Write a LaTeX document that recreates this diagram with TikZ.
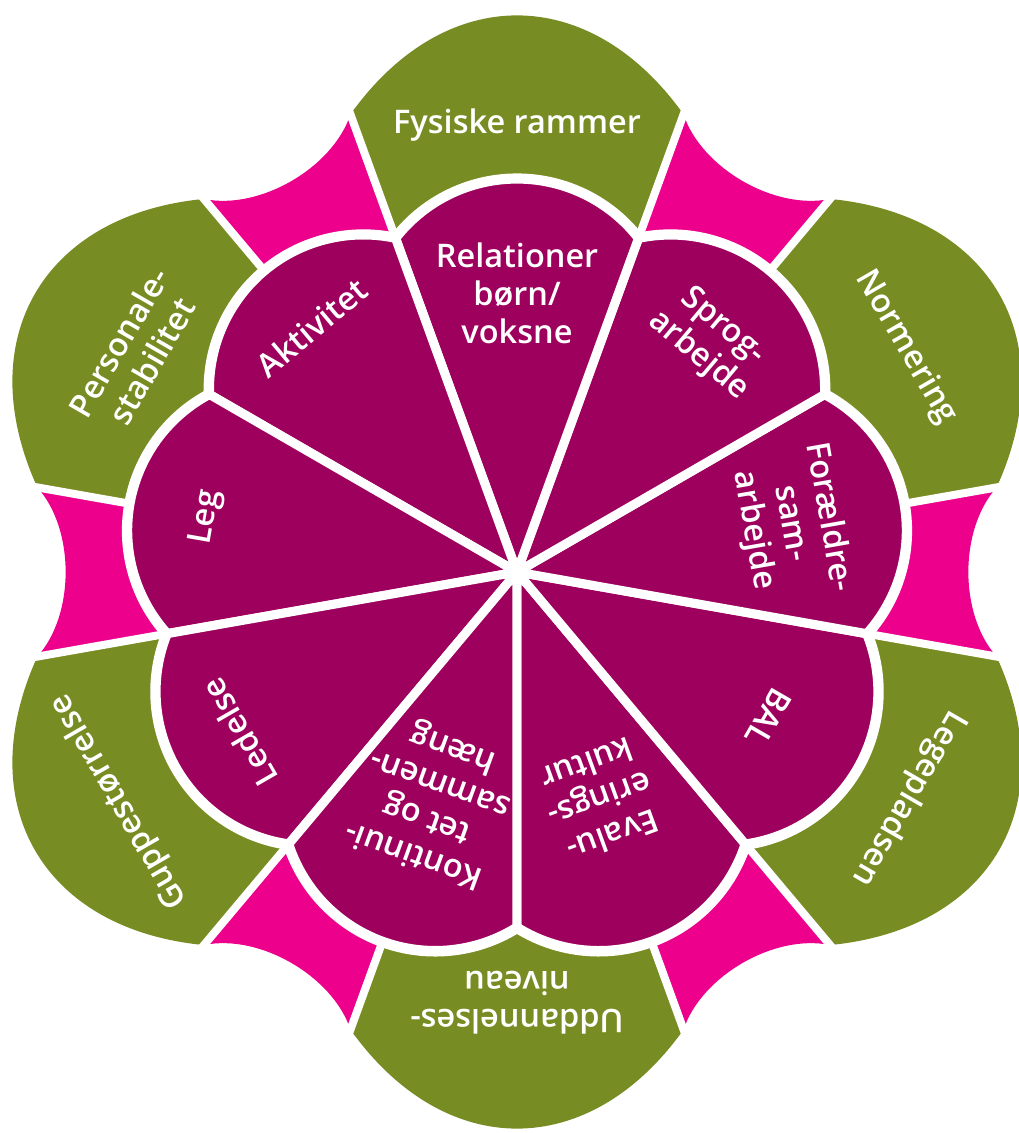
\documentclass[tikz,border=0pt]{standalone}
\usepackage{fontspec}
\newcommand\lblweight{}
\IfFontExistsTF{Open Sans Semibold}{\setmainfont{Open Sans Semibold}}{%
	\IfFontExistsTF{Open Sans SemiBold}{\setmainfont{Open Sans SemiBold}}{%
		\setmainfont{Open Sans}\renewcommand\lblweight{\bfseries}}}
\definecolor{zeqqvd}{rgb}{0.6196,0,0.3647}
\definecolor{xxyces}{rgb}{0.4667,0.549,0.1333}
\definecolor{ecqqyc}{rgb}{0.9255,0,0.549}
\begin{document}
\begin{tikzpicture}[line cap=round,line join=round,x=1pt,y=1pt,
		gapline/.style={white,line width=8pt,line cap=butt},
		halo/.style={draw=white,fill=white,line width=12pt,line join=miter},
		petal/.style={fill=zeqqvd,draw=white,line width=9pt},
		lbl/.style={text=white,align=center,inner sep=0pt,font=\lblweight\fontsize{32.5}{38}\selectfont}]
		\useasboundingbox (-517,-561) rectangle (502,572);
		\fill[xxyces] (0,0) -- (70:487) .. controls (83:594) and (97:594) .. (110:487) -- cycle;
		\fill[xxyces] (0,0) -- (130:487) .. controls (143:594) and (157:594) .. (170:487) -- cycle;
		\fill[xxyces] (0,0) -- (190:487) .. controls (203:594) and (217:594) .. (230:487) -- cycle;
		\fill[xxyces] (0,0) -- (250:487) .. controls (263:594) and (277:594) .. (290:487) -- cycle;
		\fill[xxyces] (0,0) -- (310:487) .. controls (323:594) and (337:594) .. (350:487) -- cycle;
		\fill[xxyces] (0,0) -- (10:487) .. controls (23:594) and (37:594) .. (50:487) -- cycle;
		\fill[ecqqyc] (0,0) -- (110:487) .. controls (114.5:444) and (125.5:444) .. (130:487) -- cycle;
		\fill[ecqqyc] (0,0) -- (170:487) .. controls (174.5:444) and (185.5:444) .. (190:487) -- cycle;
		\fill[ecqqyc] (0,0) -- (230:487) .. controls (234.5:444) and (245.5:444) .. (250:487) -- cycle;
		\fill[ecqqyc] (0,0) -- (290:487) .. controls (294.5:444) and (305.5:444) .. (310:487) -- cycle;
		\fill[ecqqyc] (0,0) -- (-10:487) .. controls (-5.5:444) and (5.5:444) .. (10:487) -- cycle;
		\fill[ecqqyc] (0,0) -- (50:487) .. controls (54.5:444) and (65.5:444) .. (70:487) -- cycle;
		\draw[gapline] (0,0) -- (70:620);
		\draw[gapline] (0,0) -- (110:620);
		\draw[gapline] (0,0) -- (130:620);
		\draw[gapline] (0,0) -- (170:620);
		\draw[gapline] (0,0) -- (190:620);
		\draw[gapline] (0,0) -- (230:620);
		\draw[gapline] (0,0) -- (250:620);
		\draw[gapline] (0,0) -- (290:620);
		\draw[gapline] (0,0) -- (310:620);
		\draw[gapline] (0,0) -- (350:620);
		\draw[gapline] (0,0) -- (10:620);
		\draw[gapline] (0,0) -- (50:620);
		\draw[halo] (-90:355) arc[start angle=-122.1,end angle=-17.9,radius=153.8]
			arc[start angle=-82.1,end angle=22.1,radius=153.8]
			arc[start angle=-42.1,end angle=62.1,radius=153.8]
			arc[start angle=-2.1,end angle=102.1,radius=153.8]
			arc[start angle=37.9,end angle=142.1,radius=153.8]
			arc[start angle=77.9,end angle=182.1,radius=153.8]
			arc[start angle=117.9,end angle=222.1,radius=153.8]
			arc[start angle=157.9,end angle=262.1,radius=153.8]
			arc[start angle=197.9,end angle=302.1,radius=153.8] -- cycle;
		\draw[petal] (0,0) -- (-90:355) arc[start angle=-122.1,end angle=-17.9,radius=153.8] -- cycle;
		\draw[petal] (0,0) -- (-50:355) arc[start angle=-82.1,end angle=22.1,radius=153.8] -- cycle;
		\draw[petal] (0,0) -- (-10:355) arc[start angle=-42.1,end angle=62.1,radius=153.8] -- cycle;
		\draw[petal] (0,0) -- (30:355) arc[start angle=-2.1,end angle=102.1,radius=153.8] -- cycle;
		\draw[petal] (0,0) -- (70:355) arc[start angle=37.9,end angle=142.1,radius=153.8] -- cycle;
		\draw[petal] (0,0) -- (110:355) arc[start angle=77.9,end angle=182.1,radius=153.8] -- cycle;
		\draw[petal] (0,0) -- (150:355) arc[start angle=117.9,end angle=222.1,radius=153.8] -- cycle;
		\draw[petal] (0,0) -- (190:355) arc[start angle=157.9,end angle=262.1,radius=153.8] -- cycle;
		\draw[petal] (0,0) -- (230:355) arc[start angle=197.9,end angle=302.1,radius=153.8] -- cycle;
		\node[lbl] (fysiske) at (90:447) {Fysiske rammer};
		\node[lbl,rotate=-60] (normering) at (30:449) {Normering};
		\node[lbl,rotate=-120] (legepladsen) at (-30:452) {Legepladsen};
		\node[lbl,rotate=180] (uddannelse) at (-90:431) {Uddannelses-\\niveau};
		\node[lbl,rotate=120] (gruppe) at (210:459) {Guppestørrelse};
		\node[lbl,rotate=60] (personale) at (150:441) {Personale-\\stabilitet};
		\node[lbl] (relationer) at (90:279) {Relationer\\børn/\\voksne};
		\node[lbl,rotate=-40] (sprog) at (50:301) {Sprog-\\arbejde};
		\node[lbl,rotate=-80] (foraeldre) at (10:278) {Forældre-\\sam-\\arbejde};
		\node[lbl,rotate=-120] (bal) at (-30:291) {BAL};
		\node[lbl,rotate=-160] (evaluering) at (-70:243) {Evalu-\\erings-\\kultur};
		\node[lbl,rotate=160] (kontinuitet) at (-110:243) {Kontinui-\\tet og\\sammen-\\hæng};
		\node[lbl,rotate=120] (ledelse) at (210:321) {Ledelse};
		\node[lbl,rotate=80] (leg) at (170:315) {Leg};
		\node[lbl,rotate=40] (aktivitet) at (130:319) {Aktivitet};
	\end{tikzpicture}
\end{document}
